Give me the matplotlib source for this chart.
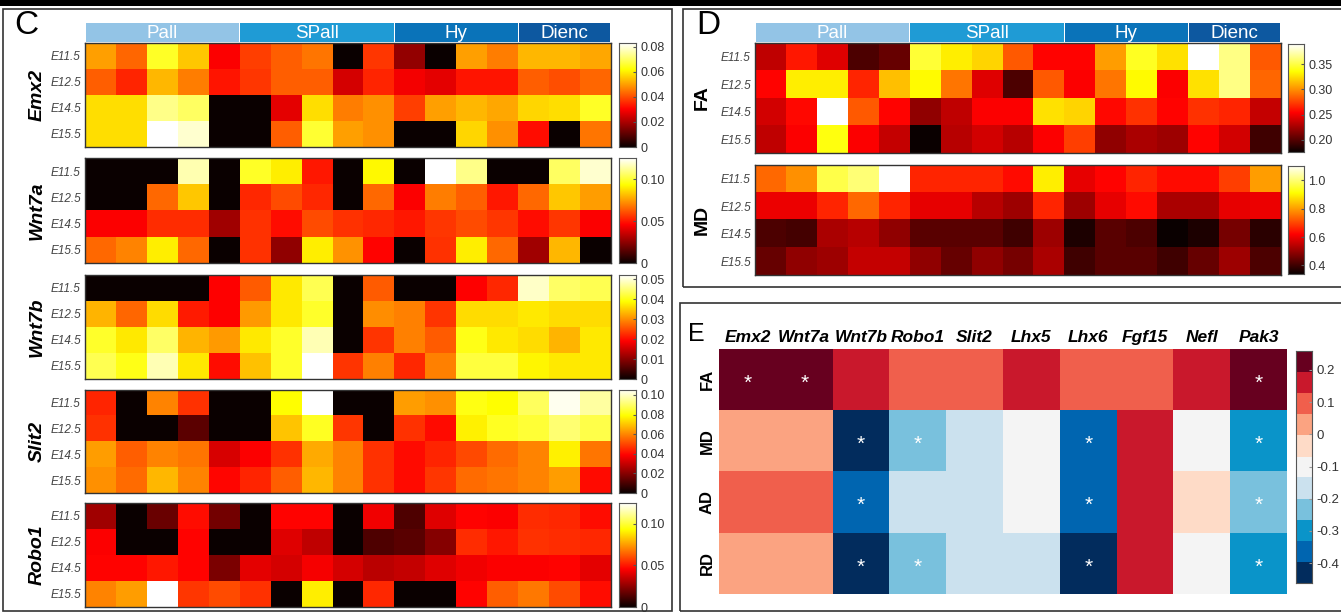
import numpy as np
import matplotlib.pyplot as plt
from matplotlib.colors import ListedColormap, BoundaryNorm
from matplotlib.patches import Rectangle

plt.rcParams['font.family'] = ['Liberation Sans', 'DejaVu Sans']

W, H = 1341, 612

# ---- data ----
stages = ["E11.5", "E12.5", "E14.5", "E15.5"]
regions = ["Pall", "SPall", "Hy", "Dienc"]
region_ncols = [5, 5, 4, 3]
region_colors = ["#93c4e6", "#1f9bd5", "#0a73b9", "#0d58a0"]

emx2 = [
    [0.050, 0.043, 0.065, 0.055, 0.030, 0.038, 0.042, 0.045, 0.000, 0.037, 0.017, 0.000, 0.050, 0.046, 0.053, 0.053, 0.051],
    [0.042, 0.035, 0.053, 0.046, 0.033, 0.037, 0.042, 0.042, 0.025, 0.035, 0.029, 0.027, 0.033, 0.033, 0.042, 0.040, 0.043],
    [0.058, 0.058, 0.073, 0.070, 0.000, 0.000, 0.027, 0.058, 0.046, 0.048, 0.038, 0.050, 0.053, 0.051, 0.057, 0.058, 0.065],
    [0.058, 0.058, 0.083, 0.079, 0.000, 0.000, 0.042, 0.066, 0.050, 0.048, 0.000, 0.000, 0.057, 0.048, 0.032, 0.000, 0.045],
]
wnt7a = [
    [0.000, 0.000, 0.000, 0.115, 0.000, 0.098, 0.090, 0.050, 0.000, 0.092, 0.000, 0.125, 0.110, 0.000, 0.000, 0.105, 0.119],
    [0.000, 0.000, 0.065, 0.083, 0.000, 0.053, 0.060, 0.053, 0.000, 0.065, 0.045, 0.069, 0.063, 0.050, 0.065, 0.083, 0.075],
    [0.045, 0.045, 0.054, 0.054, 0.028, 0.055, 0.048, 0.060, 0.055, 0.053, 0.050, 0.056, 0.060, 0.056, 0.048, 0.056, 0.045],
    [0.065, 0.070, 0.090, 0.065, 0.000, 0.055, 0.025, 0.090, 0.073, 0.046, 0.000, 0.055, 0.090, 0.065, 0.028, 0.080, 0.000],
]
wnt7b = [
    [0.000, 0.000, 0.000, 0.000, 0.019, 0.026, 0.037, 0.043, 0.000, 0.026, 0.000, 0.000, 0.019, 0.022, 0.049, 0.044, 0.043],
    [0.033, 0.027, 0.036, 0.021, 0.019, 0.031, 0.037, 0.041, 0.000, 0.030, 0.029, 0.023, 0.036, 0.036, 0.037, 0.036, 0.036],
    [0.041, 0.037, 0.044, 0.033, 0.031, 0.037, 0.041, 0.048, 0.000, 0.023, 0.029, 0.026, 0.040, 0.037, 0.036, 0.033, 0.037],
    [0.043, 0.040, 0.048, 0.037, 0.020, 0.034, 0.041, 0.052, 0.023, 0.029, 0.022, 0.029, 0.042, 0.042, 0.038, 0.037, 0.037],
]
slit2 = [
    [0.044, 0.000, 0.059, 0.046, 0.000, 0.000, 0.078, 0.105, 0.000, 0.000, 0.063, 0.061, 0.080, 0.078, 0.088, 0.103, 0.095],
    [0.046, 0.000, 0.000, 0.013, 0.000, 0.000, 0.069, 0.082, 0.047, 0.000, 0.046, 0.040, 0.076, 0.082, 0.084, 0.090, 0.086],
    [0.063, 0.053, 0.059, 0.057, 0.032, 0.038, 0.046, 0.065, 0.059, 0.046, 0.040, 0.044, 0.050, 0.055, 0.059, 0.076, 0.057],
    [0.061, 0.055, 0.067, 0.059, 0.039, 0.044, 0.053, 0.067, 0.059, 0.046, 0.040, 0.047, 0.055, 0.057, 0.059, 0.063, 0.040],
]
robo1 = [
    [0.028, 0.000, 0.018, 0.048, 0.020, 0.000, 0.046, 0.046, 0.000, 0.043, 0.013, 0.040, 0.046, 0.045, 0.054, 0.053, 0.048],
    [0.045, 0.000, 0.000, 0.046, 0.000, 0.000, 0.040, 0.034, 0.000, 0.013, 0.015, 0.023, 0.054, 0.050, 0.055, 0.054, 0.053],
    [0.046, 0.046, 0.050, 0.046, 0.021, 0.041, 0.038, 0.044, 0.038, 0.033, 0.035, 0.040, 0.043, 0.045, 0.045, 0.046, 0.041],
    [0.070, 0.075, 0.125, 0.056, 0.060, 0.055, 0.000, 0.090, 0.000, 0.053, 0.000, 0.000, 0.046, 0.063, 0.068, 0.060, 0.048],
]
fa_d = [
    [0.234, 0.262, 0.244, 0.197, 0.206, 0.347, 0.330, 0.322, 0.283, 0.255, 0.255, 0.304, 0.343, 0.326, 0.390, 0.364, 0.283],
    [0.255, 0.330, 0.330, 0.266, 0.315, 0.334, 0.292, 0.244, 0.197, 0.283, 0.253, 0.292, 0.334, 0.253, 0.326, 0.364, 0.287],
    [0.240, 0.257, 0.390, 0.283, 0.255, 0.219, 0.234, 0.253, 0.253, 0.326, 0.322, 0.257, 0.270, 0.255, 0.270, 0.266, 0.236],
    [0.234, 0.253, 0.339, 0.253, 0.236, 0.176, 0.232, 0.240, 0.232, 0.253, 0.274, 0.219, 0.227, 0.223, 0.255, 0.240, 0.193],
]
md_d = [
    [0.735, 0.780, 0.963, 0.994, 1.100, 0.659, 0.659, 0.659, 0.629, 0.887, 0.591, 0.621, 0.659, 0.629, 0.629, 0.690, 0.796],
    [0.598, 0.598, 0.659, 0.735, 0.659, 0.591, 0.591, 0.538, 0.507, 0.659, 0.507, 0.591, 0.629, 0.522, 0.522, 0.591, 0.598],
    [0.416, 0.408, 0.522, 0.538, 0.492, 0.431, 0.431, 0.431, 0.400, 0.507, 0.363, 0.431, 0.416, 0.340, 0.363, 0.462, 0.378],
    [0.446, 0.492, 0.507, 0.553, 0.553, 0.492, 0.446, 0.492, 0.462, 0.522, 0.400, 0.431, 0.431, 0.400, 0.446, 0.507, 0.416],
]

genes_e = ["Emx2", "Wnt7a", "Wnt7b", "Robo1", "Slit2", "Lhx5", "Lhx6", "Fgf15", "Nefl", "Pak3"]
metrics_e = ["FA", "MD", "AD", "RD"]
corr_e = [
    [0.23, 0.23, 0.16, 0.10, 0.10, 0.16, 0.10, 0.10, 0.16, 0.23],
    [0.03, 0.03, -0.43, -0.23, -0.17, -0.10, -0.36, 0.16, -0.10, -0.30],
    [0.10, 0.10, -0.36, -0.17, -0.17, -0.10, -0.36, 0.16, -0.04, -0.23],
    [0.03, 0.03, -0.43, -0.23, -0.17, -0.17, -0.43, 0.16, -0.10, -0.30],
]
signif_e = [
    [1, 1, 0, 0, 0, 0, 0, 0, 0, 1],
    [0, 0, 1, 1, 0, 0, 1, 0, 0, 1],
    [0, 0, 1, 0, 0, 0, 1, 0, 0, 1],
    [0, 0, 1, 1, 0, 0, 1, 0, 0, 1],
]

fig = plt.figure(figsize=(W / 100, H / 100), dpi=100)


def px_axes(x0, y0, x1, y1):
    return fig.add_axes([x0 / W, 1 - y1 / H, (x1 - x0) / W, (y1 - y0) / H])


def frame(x0, y0, x1, y1, lw=1.2, color="#333333"):
    fig.patches.append(Rectangle((x0 / W, 1 - y1 / H), (x1 - x0) / W, (y1 - y0) / H,
                                 transform=fig.transFigure, fill=False, lw=lw, ec=color))


def header(x0, x1, y0, y1):
    ax = px_axes(x0, y0, x1, y1)
    ax.set_xlim(0, sum(region_ncols))
    ax.set_ylim(0, 1)
    ax.axis("off")
    start = 0
    for name, n, c in zip(regions, region_ncols, region_colors):
        ax.add_patch(Rectangle((start + 0.02, 0), n - 0.04, 1, color=c, lw=0))
        ax.text(start + n / 2, 0.45, name, color="white", ha="center", va="center", fontsize=13.5)
        start += n


def heat(data, box, cbox, vmin, vmax, ticks, labels, gene, gene_x, gene_fs=14, lab_fs=8.5):
    ax = px_axes(*box)
    ax.imshow(np.array(data), cmap="hot", vmin=vmin, vmax=vmax, aspect="auto",
              interpolation="nearest")
    ax.set_xticks([])
    ax.set_yticks(range(len(stages)))
    ax.set_yticklabels(stages, fontsize=lab_fs, style="italic", color="#444444")
    ax.tick_params(axis="y", length=0, pad=3)
    for s in ax.spines.values():
        s.set_color("#333333")
        s.set_linewidth(1.0)
    cax = px_axes(*cbox)
    grad = np.linspace(vmin, vmax, 256).reshape(-1, 1)
    cax.imshow(grad, cmap="hot", vmin=vmin, vmax=vmax, aspect="auto", origin="lower",
               extent=[0, 1, vmin, vmax])
    cax.set_xticks([])
    cax.yaxis.tick_right()
    cax.set_yticks(ticks)
    cax.set_yticklabels(labels, fontsize=9, color="#333333")
    cax.tick_params(axis="y", length=2, direction="in", pad=3, color="#555555")
    for s in cax.spines.values():
        s.set_color("#555555")
        s.set_linewidth(0.8)
    yc = (box[1] + box[3]) / 2
    fig.text(gene_x / W, 1 - yc / H, gene, rotation=90, ha="center", va="center",
             fontsize=gene_fs, fontweight="bold", style="italic" if gene not in ("FA", "MD") else "normal")


# top black bar
fig.patches.append(Rectangle((0, 1 - 6 / H), 1, 6 / H, transform=fig.transFigure,
                             color="black", lw=0))

# ---- panel C ----
frame(3, 9, 672, 611)
fig.text(14 / W, 1 - 25 / H, "C", fontsize=24, ha="left", va="center")
cx0, cx1 = 85, 611
header(cx0, cx1, 23, 42)
c_rows = [(43, 147), (158, 263), (275, 379), (390, 493), (503, 607)]
c_specs = [
    (emx2, "Emx2", 0.083, [0, 0.02, 0.04, 0.06, 0.08], ["0", "0.02", "0.04", "0.06", "0.08"]),
    (wnt7a, "Wnt7a", 0.125, [0, 0.05, 0.10], ["0", "0.05", "0.10"]),
    (wnt7b, "Wnt7b", 0.052, [0, 0.01, 0.02, 0.03, 0.04, 0.05],
     ["0", "0.01", "0.02", "0.03", "0.04", "0.05"]),
    (slit2, "Slit2", 0.105, [0, 0.02, 0.04, 0.06, 0.08, 0.10],
     ["0", "0.02", "0.04", "0.06", "0.08", "0.10"]),
    (robo1, "Robo1", 0.125, [0, 0.05, 0.10], ["0", "0.05", "0.10"]),
]
for (y0, y1), (d, g, vmax, t, tl) in zip(c_rows, c_specs):
    heat(d, (cx0, y0, cx1, y1), (619, y0, 636, y1), 0, vmax, t, tl, g, 37)

# ---- panel D ----
frame(683, 9, 1345, 287)
fig.text(696 / W, 1 - 25 / H, "D", fontsize=24, ha="left", va="center")
dx0, dx1 = 755, 1281
header(dx0, dx1, 23, 42)
heat(fa_d, (dx0, 43, dx1, 153), (1288, 44, 1304, 152), 0.176, 0.39,
     [0.20, 0.25, 0.30, 0.35], ["0.20", "0.25", "0.30", "0.35"], "FA", 702)
heat(md_d, (dx0, 165, dx1, 275), (1288, 166, 1304, 274), 0.34, 1.1,
     [0.4, 0.6, 0.8, 1.0], ["0.4", "0.6", "0.8", "1.0"], "MD", 702)

# ---- panel E ----
frame(680, 303, 1345, 611)
fig.text(688 / W, 1 - 334 / H, "E", fontsize=18, ha="left", va="center")
e_colors = ["#022c5d", "#0065b0", "#0a94c9", "#79c1dd", "#cbe1ee", "#f4f4f4",
            "#fedbc7", "#fba381", "#f05f4c", "#c9182c", "#67001f"]
e_bounds = np.linspace(-0.462, 0.259, len(e_colors) + 1)
e_cmap = ListedColormap(e_colors)
e_norm = BoundaryNorm(e_bounds, e_cmap.N)

axe = px_axes(719, 349, 1287, 594)
axe.imshow(np.array(corr_e), cmap=e_cmap, norm=e_norm, aspect="auto", interpolation="nearest")
axe.set_xticks(range(len(genes_e)))
axe.set_xticklabels(genes_e, fontsize=12.5, fontweight="bold", style="italic")
axe.xaxis.tick_top()
axe.set_yticks(range(len(metrics_e)))
axe.set_yticklabels(metrics_e, fontsize=12, fontweight="bold", rotation=90, va="center")
axe.tick_params(length=0, pad=3)
for s in axe.spines.values():
    s.set_visible(False)
sig = np.array(signif_e)
for i, j in zip(*np.nonzero(sig)):
    axe.text(j, i + 0.06, "*", color="white", ha="center", va="center", fontsize=15)

caxe = px_axes(1296, 351, 1312, 583)
grad_e = np.linspace(e_bounds[0], e_bounds[-1], 512).reshape(-1, 1)
caxe.imshow(grad_e, cmap=e_cmap, norm=e_norm, aspect="auto", origin="lower",
            extent=[0, 1, e_bounds[0], e_bounds[-1]], interpolation="nearest")
caxe.set_xticks([])
caxe.yaxis.tick_right()
e_ticks = [-0.4, -0.3, -0.2, -0.1, 0, 0.1, 0.2]
caxe.set_yticks(e_ticks)
caxe.set_yticklabels(["-0.4", "-0.3", "-0.2", "-0.1", "0", "0.1", "0.2"], fontsize=9.5, color="#333333")
caxe.tick_params(axis="y", length=2, direction="in", pad=3, color="#999999")
for s in caxe.spines.values():
    s.set_color("#555555")
    s.set_linewidth(0.8)

fig.savefig("out.png", dpi=100)
